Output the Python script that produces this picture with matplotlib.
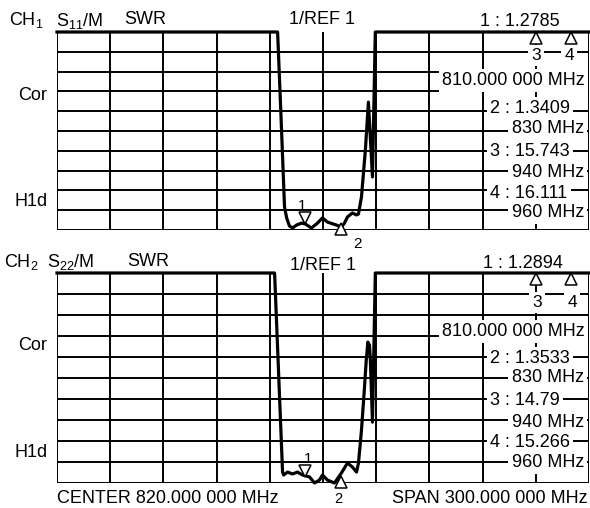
import numpy as np
import matplotlib
matplotlib.use("Agg")
import matplotlib.pyplot as plt
from matplotlib.transforms import offset_copy

plt.rcParams['font.family'] = ['Liberation Sans', 'DejaVu Sans']
plt.rcParams['mathtext.fontset'] = 'custom'
plt.rcParams['mathtext.rm'] = 'Liberation Sans'
plt.rcParams['mathtext.it'] = 'Liberation Sans'

# ---------------- data ----------------
center_mhz = 820.0
span_mhz = 300.0
ref_value = 1.0
per_div = 1.0
n_div = 10

freq_s11 = [670, 794.4, 796.4, 798.3, 799.5, 801.1, 802.8, 805.1, 807.9, 810.1, 813.5,
            816.9, 819.7, 822.5, 827.6, 830.4, 832.1, 833.8, 836.6, 838.9, 840.0,
            841.7, 843.9, 845.6, 847.9, 849.5, 970]
swr_s11 = [11, 11, 6.56, 2.17, 1.61, 1.20, 1.10, 1.25, 1.35, 1.30, 1.10,
           1.35, 1.61, 1.40, 1.25, 1.15, 1.35, 1.66, 1.86, 1.76, 1.81,
           2.67, 5.04, 7.46, 3.68, 11, 11]

freq_s22 = [670, 792.7, 797.2, 797.8, 800.0, 802.8, 805.6, 808.5, 812.4, 815.2,
            818.0, 819.7, 822.5, 826.5, 830.4, 833.8, 836.6, 838.9, 840.0, 841.7,
            843.3, 844.4, 845.3, 846.2, 846.7, 847.9, 849.5, 970]
swr_s22 = [11, 11, 1.52, 1.38, 1.52, 1.43, 1.52, 1.38, 1.29, 1.00,
           1.14, 1.38, 1.14, 1.00, 1.48, 1.95, 1.76, 1.52, 1.95, 3.52,
           5.43, 6.86, 7.71, 7.57, 6.86, 3.90, 11, 11]

marker_freq = [810, 830, 940, 960]
marker_s11 = [1.2785, 1.3409, 15.743, 16.111]
marker_s22 = [1.2894, 1.3533, 14.79, 15.266]
marker_freq_text = ["810.000 000 MHz", "830 MHz", "940 MHz", "960 MHz"]

# ---------------- layout ----------------
W, H = 590, 508
fig = plt.figure(figsize=(W / 100, H / 100), dpi=100)
fig.patch.set_facecolor('white')


def fp(x, y):
    return x / W, 1 - y / H


FS = 13
LW_GRID = 1.4
LW_TRACE = 2.3


def panel(top_px, bot_px, freq, swr, mvals):
    ax = fig.add_axes([57 / W, 1 - bot_px / H, 532 / W, (bot_px - top_px) / H])
    x0 = center_mhz - span_mhz / 2
    x1 = center_mhz + span_mhz / 2
    y0 = ref_value
    y1 = ref_value + n_div * per_div
    ax.set_xlim(x0, x1)
    ax.set_ylim(y0, y1)
    ax.axis('off')
    for k in range(n_div + 1):
        ax.axvline(x0 + k * span_mhz / n_div, color='black', lw=LW_GRID, zorder=1)
    for k in range(n_div):
        ax.axhline(y0 + k * per_div, color='black', lw=LW_GRID, zorder=1)
    ax.plot(freq, np.clip(swr, y0, y1), color='black', lw=LW_TRACE,
            solid_joinstyle='round', clip_on=False, zorder=3)
    # markers
    mv = np.clip(mvals, y0, y1)
    tr_up = offset_copy(ax.transData, fig=fig, x=0, y=6, units='dots')
    tr_dn = offset_copy(ax.transData, fig=fig, x=0, y=-6, units='dots')
    ax.plot([marker_freq[0]], [mv[0]], marker='v', ms=8.5, mfc='white', mec='black',
            mew=1.1, transform=tr_up, clip_on=False, zorder=4)
    ax.plot([marker_freq[1]], [mv[1]], marker='^', ms=8.5, mfc='white', mec='black',
            mew=1.1, transform=tr_dn, clip_on=False, zorder=4)
    ax.plot(marker_freq[2:], mv[2:], marker='^', ls='none', ms=8.5, mfc='white',
            mec='black', mew=1.1, transform=tr_dn, clip_on=False, zorder=4)
    return ax


ax1 = panel(32, 230, freq_s11, swr_s11, marker_s11)
ax2 = panel(273, 483, freq_s22, swr_s22, marker_s22)


def t(x, y, s, ha='left', fs=FS, box=False, **kw):
    kwargs = dict(ha=ha, va='baseline', fontsize=fs, color='black', zorder=5)
    if box:
        kwargs['bbox'] = dict(facecolor='white', edgecolor='none', pad=2.5)
    kwargs.update(kw)
    fig.text(*fp(x, y), s, **kwargs)


# headers
t(9, 25, r'CH$_{1}$')
t(56, 26, r'S$_{11}$/M')
t(124, 24, 'SWR')
t(322, 24, '1/REF 1', ha='center')
t(480, 26, f'1 : {marker_s11[0]}')

t(4, 267, r'CH$_{2}$')
t(47, 267, r'S$_{22}$/M')
t(127, 266, 'SWR')
t(323, 270, '1/REF 1', ha='center')
t(483, 268, f'1 : {marker_s22[0]}')

# left labels
t(47, 100, 'Cor', ha='right')
t(48, 206, 'H1d', ha='right')
t(47, 350, 'Cor', ha='right')
t(48, 457, 'H1d', ha='right')

# right readouts
def readouts(mvals, ys):
    t(585, ys[0], marker_freq_text[0], ha='right', box=True)
    t(490, ys[1], f'2 : {mvals[1]}', box=True)
    t(584, ys[2], marker_freq_text[1], ha='right', box=True)
    t(490, ys[3], f'3 : {mvals[2]}', box=True)
    t(584, ys[4], marker_freq_text[2], ha='right', box=True)
    t(490, ys[5], f'4 : {mvals[3]}', box=True)
    t(584, ys[6], marker_freq_text[3], ha='right', box=True)


readouts(marker_s11, [85, 113, 133, 156, 177, 198, 217])
readouts(marker_s22, [336, 363, 382, 405, 427, 447, 467])

# marker labels
t(302, 210, '1', ha='center', fs=11)
t(357, 248, '2', ha='center', fs=11)
t(536, 60, '3', ha='center', box=True, fs=12.5)
t(569, 60, '4', ha='center', box=True, fs=12.5)

t(308, 463, '1', ha='center', fs=11)
t(338, 503, '2', ha='center', fs=10.5)
t(537, 307, '3', ha='center', box=True, fs=12.5)
t(572, 307, '4', ha='center', box=True, fs=12.5)

# bottom line
t(57, 503, 'CENTER 820.000 000 MHz')
t(588, 503, 'SPAN 300.000 000 MHz', ha='right')

fig.savefig('out.png', dpi=100, facecolor='white')
